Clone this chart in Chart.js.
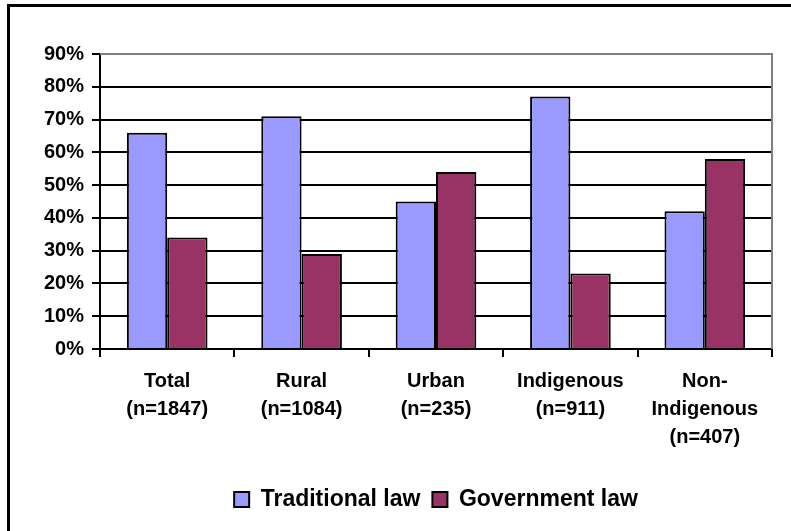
<!DOCTYPE html>
<html>
<head>
<meta charset="utf-8">
<script src="https://cdn.jsdelivr.net/npm/chart.js@4"></script>
<style>
  html, body { margin: 0; padding: 0; background: #fff; overflow: hidden; }
  #frame {
    position: absolute; left: 7px; top: 4px; width: 900px; height: 700px;
    border-left: 3px solid #000; border-top: 3px solid #000;
  }
  #wrap { position: absolute; left: 0; top: 0; width: 791px; height: 531px; }
</style>
</head>
<body>
<div id="frame"></div>
<div id="wrap"><canvas id="chart"></canvas></div>
<script>
const categories = [
  ['Total', '(n=1847)'],
  ['Rural', '(n=1084)'],
  ['Urban', '(n=235)'],
  ['Indigenous', '(n=911)'],
  ['Non-', 'Indigenous', '(n=407)'],
];
const traditionalLaw = [66, 71, 45, 77, 42];
const governmentLaw = [34, 29, 54, 23, 58];
const yMax = 90;
const yStep = 10;

const fontFamily = "'Liberation Sans', Arial, sans-serif";

// gray frame on top and right of the plot area, like the Excel plot border
const plotBorder = {
  id: 'plotBorder',
  afterDatasetsDraw(chart) {
    const { ctx, chartArea: a } = chart;
    ctx.save();
    ctx.strokeStyle = '#808080';
    ctx.lineWidth = 2;
    ctx.beginPath();
    ctx.moveTo(a.left, a.top);
    ctx.lineTo(a.right, a.top);
    ctx.lineTo(a.right, a.bottom);
    ctx.stroke();
    ctx.restore();
  },
};

new Chart(document.getElementById('chart'), {
  type: 'bar',
  data: {
    labels: categories,
    datasets: [
      {
        label: 'Traditional law',
        data: traditionalLaw,
        backgroundColor: '#9999FF',
        borderColor: '#000',
        borderWidth: 2,
        categoryPercentage: 0.6,
        barPercentage: 1.0,
      },
      {
        label: 'Government law',
        data: governmentLaw,
        backgroundColor: '#993366',
        borderColor: '#000',
        borderWidth: 2,
        categoryPercentage: 0.6,
        barPercentage: 1.0,
      },
    ],
  },
  options: {
    responsive: true,
    maintainAspectRatio: false,
    animation: false,
    layout: { padding: { top: 54, right: 19, left: 10, bottom: 10 } },
    plugins: {
      legend: {
        position: 'bottom',
        fullSize: false,
        labels: {
          color: '#000',
          font: { family: fontFamily, size: 23, weight: 'bold' },
          boxWidth: 15,
          boxHeight: 15,
          padding: 12,
        },
      },
      tooltip: { enabled: false },
    },
    scales: {
      x: {
        offset: true,
        grid: {
          display: true,
          drawOnChartArea: false,
          offset: true,
          tickLength: 8,
          tickColor: '#000',
          lineWidth: 2,
        },
        border: { color: '#000', width: 2 },
        ticks: {
          color: '#000',
          padding: 10,
          maxRotation: 0,
          autoSkip: false,
          font: { family: fontFamily, size: 20, weight: 'bold', lineHeight: 1.4 },
        },
        afterFit(scale) { scale.height = 127; },
      },
      y: {
        min: 0,
        max: yMax,
        grid: {
          color: (c) => (c.tick && c.tick.value === yMax ? '#808080' : '#000'),
          tickColor: '#000',
          lineWidth: 2,
          tickLength: 8,
        },
        border: { color: '#000', width: 2 },
        ticks: {
          stepSize: yStep,
          color: '#000',
          padding: 8,
          font: { family: fontFamily, size: 20, weight: 'bold' },
          callback: (v) => v + '%',
        },
        afterFit(scale) { scale.width = 90; },
      },
    },
  },
  plugins: [plotBorder],
});
</script>
</body>
</html>
